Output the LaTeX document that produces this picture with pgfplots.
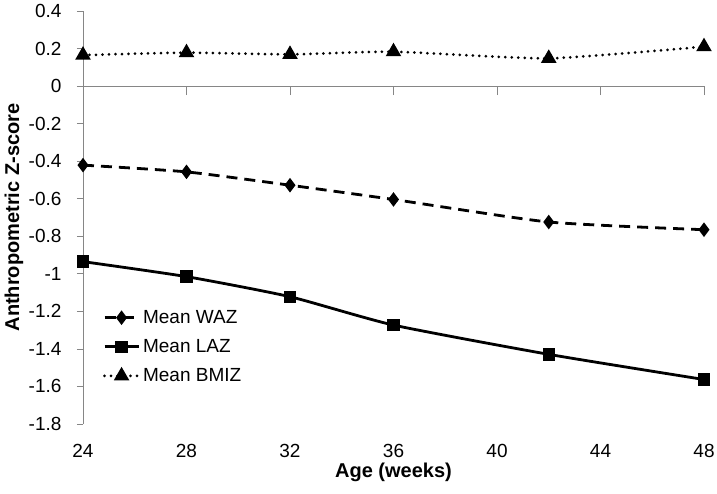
\documentclass[border=0pt]{standalone}
\usepackage{pgfplots}
\pgfplotsset{compat=1.18}
\usepackage{fontspec}
\setmainfont{Liberation Sans}
\definecolor{axgray}{RGB}{134,134,134}
\newcommand{\tf}{\fontsize{19}{22}\selectfont}
\newcommand{\lf}{\fontsize{20}{23}\selectfont\bfseries}
\begin{document}
\begin{tikzpicture}
\path[use as bounding box] (-83pt,-69pt) rectangle (634pt,424pt);
\pgfplotsset{
  common/.style={
    width=621pt, height=413pt, scale only axis,
    xmin=24, xmax=48, ymin=-1.8, ymax=0.4,
    /pgf/number format/assume math mode=true,
  }
}
\begin{axis}[common,
  axis y line=left, axis x line=bottom,
  axis line style={axgray, line width=0.8pt, -},
  x axis line style={draw=none},
  xtick={24,28,32,36,40,44,48},
  xticklabels={24,28,32,36,40,44,48},
  xtick style={draw=none},
  ytick={-1.8,-1.6,-1.4,-1.2,-1,-0.8,-0.6,-0.4,-0.2,0,0.2,0.4},
  yticklabels={-1.8,-1.6,-1.4,-1.2,-1,-0.8,-0.6,-0.4,-0.2,0,0.2,0.4},
  ytick style={axgray, line width=0.8pt},
  tick align=outside, major tick length=6pt,
  yticklabel style={font=\tf, anchor=east, xshift=-12pt},
  xticklabel style={font=\tf, anchor=center, yshift=-21pt},
  xlabel={Age (weeks)}, ylabel={Anthropometric Z-score},
  xlabel style={font=\lf, at={(axis description cs:0.5,0)}, anchor=center, yshift=-48pt},
  ylabel style={font=\lf, at={(axis description cs:0,0.5)}, anchor=center, yshift=69pt},
  legend style={font=\tf, draw=none, fill=none, inner sep=0pt, at={(0.032,0.187)}, anchor=west,
    row sep=12.5pt, column sep=2pt, nodes={inner sep=1pt}},
  legend cell align=left,
  legend image code/.code={\draw[mark repeat=2,mark phase=2,#1] plot coordinates {(0pt,0pt) (17pt,0pt) (34pt,0pt)};},
]
\addplot[black, line width=2.8pt, dash pattern=on 11pt off 7pt, smooth, tension=0.35,
  mark=diamond*, mark size=5pt, mark options={solid}]
  coordinates {(24,-0.421) (28,-0.457) (32,-0.528) (36,-0.604) (42,-0.724) (48,-0.765)};
\addlegendentry{Mean WAZ}
\addplot[black, line width=2.8pt, smooth, tension=0.35,
  mark=square*, mark size=4.8pt]
  coordinates {(24,-0.935) (28,-1.015) (32,-1.122) (36,-1.273) (42,-1.429) (48,-1.563)};
\addlegendentry{Mean LAZ}
\addplot[black, line width=3pt, line cap=round, dash pattern=on 0pt off 6.5pt, smooth, tension=0.35,
  mark=triangle*, mark size=6pt, mark options={solid}]
  coordinates {(24,0.165) (28,0.178) (32,0.169) (36,0.183) (42,0.148) (48,0.21)};
\addlegendentry{Mean BMIZ}
\end{axis}
\begin{axis}[common,
  axis x line=middle, axis y line=none,
  axis line style={axgray, line width=0.8pt, -},
  xtick={24,28,32,36,40,44,48}, xticklabels={},
  ytick=\empty,
  x tick style={axgray, line width=0.8pt, yshift=-4.5pt},
  major tick length=9pt,
]
\end{axis}
\end{tikzpicture}
\end{document}
